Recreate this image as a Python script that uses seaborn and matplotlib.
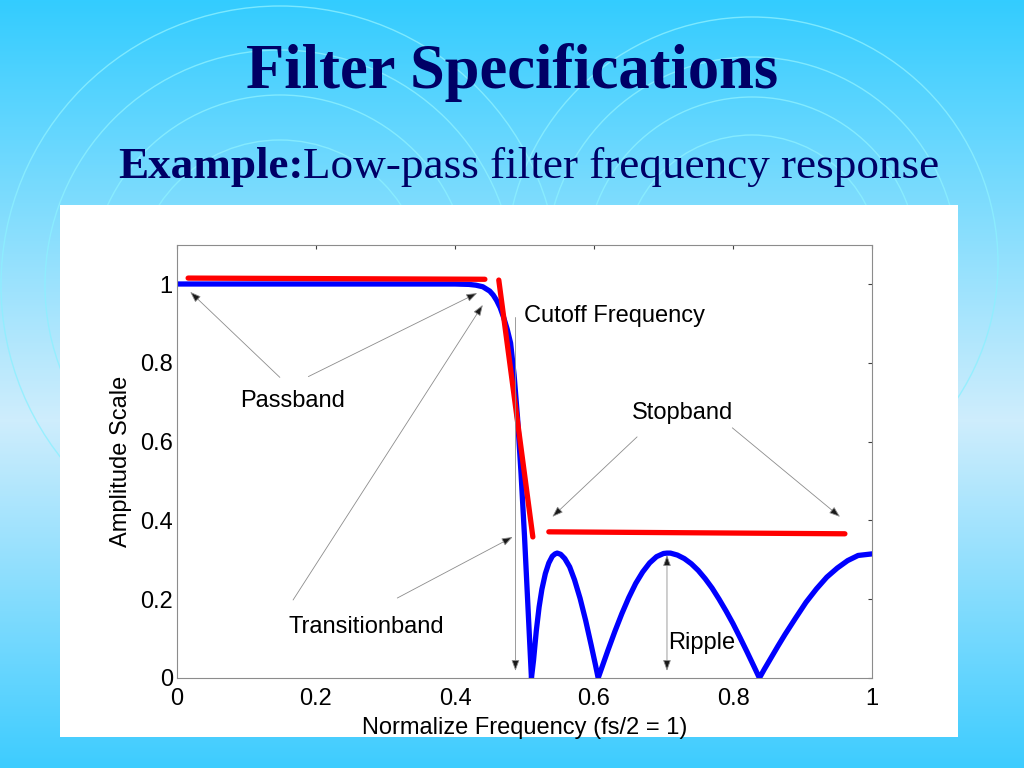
### Filter specifications slide
## low-pass filter magnitude response with passband / stopband annotations

import matplotlib.pyplot as plt
import numpy as np
import pandas as pd
import seaborn as sns
from matplotlib.patches import Circle, Rectangle

## data
freq = [0.00, 0.10, 0.20, 0.30, 0.40, 0.42, 0.43, 0.44, 0.45, 0.455, 0.46, 0.465, 0.47,
        0.475, 0.48, 0.485, 0.49, 0.495, 0.50, 0.505, 0.51,
        0.513, 0.517, 0.521, 0.525, 0.530, 0.535, 0.540, 0.544, 0.547, 0.552, 0.558,
        0.565, 0.572, 0.580, 0.588, 0.596, 0.602, 0.606,
        0.612, 0.620, 0.630, 0.640, 0.650, 0.660, 0.670, 0.680, 0.690, 0.700, 0.705,
        0.710, 0.720, 0.730, 0.740, 0.750, 0.760, 0.770, 0.780, 0.790, 0.800, 0.810,
        0.820, 0.830, 0.838,
        0.845, 0.855, 0.865, 0.875, 0.890, 0.905, 0.920, 0.935, 0.950, 0.965, 0.980, 1.00]
amplitude = [1.000, 1.000, 1.000, 1.000, 1.000, 0.999, 0.997, 0.993, 0.982, 0.972, 0.958, 0.940, 0.915,
             0.886, 0.850, 0.770, 0.660, 0.520, 0.360, 0.180, 0.000,
             0.045, 0.120, 0.180, 0.225, 0.265, 0.292, 0.309, 0.315, 0.317, 0.314, 0.303,
             0.282, 0.249, 0.202, 0.146, 0.083, 0.034, 0.000,
             0.030, 0.070, 0.118, 0.163, 0.204, 0.240, 0.269, 0.292, 0.308, 0.316, 0.317,
             0.317, 0.312, 0.303, 0.290, 0.273, 0.252, 0.228, 0.200, 0.170, 0.138, 0.103,
             0.067, 0.030, 0.000,
             0.022, 0.052, 0.082, 0.111, 0.152, 0.192, 0.226, 0.256, 0.279, 0.298, 0.311, 0.315]

passband_x = [0.016, 0.443]
passband_y = [1.015, 1.012]
transition_x = [0.463, 0.512]
transition_y = [1.010, 0.358]
stopband_x = [0.535, 0.961]
stopband_y = [0.371, 0.366]

x_ticks = [0, 0.2, 0.4, 0.6, 0.8, 1.0]
x_tick_labels = ["0", "0.2", "0.4", "0.6", "0.8", "1"]
y_ticks = [0, 0.2, 0.4, 0.6, 0.8, 1.0]
y_tick_labels = ["0", "0.2", "0.4", "0.6", "0.8", "1"]

NAVY = "#000066"

sns.set_theme(style="white")
plt.rcParams["font.family"] = ["Liberation Sans", "DejaVu Sans"]

fig = plt.figure(figsize=(10.24, 7.68), dpi=100)

#### slide background: vertical gradient + decorative rings ####
bg = fig.add_axes([0, 0, 1, 1], zorder=0)
rows = np.arange(768)
stops = [0, 420, 768]
grad = np.zeros((768, 1, 3))
for i, (c0, c1, c2) in enumerate(zip((0.20, 0.80, 1.0), (0.81, 0.93, 0.99), (0.24, 0.80, 1.0))):
    grad[:, 0, i] = np.interp(rows, stops, [c0, c1, c2])
bg.imshow(grad, aspect="auto", extent=(0, 1024, 768, 0))
for (cx, cy), radii in [((280, 285), [279, 235, 190, 145]), ((752, 263), [246, 206, 166, 128])]:
    for r in radii:
        bg.add_patch(Circle((cx, cy), r, fill=False, ec="#8cf0ff", lw=1.0, alpha=0.8))
bg.add_patch(Rectangle((60, 205), 898, 532, fc="white", ec="none", zorder=5))
bg.set_xlim(0, 1024)
bg.set_ylim(768, 0)
bg.axis("off")

# title and subtitle
fig.text(0.5, 1 - 88 / 768, "Filter Specifications", ha="center", va="baseline",
         fontsize=45, fontweight="bold", family="Liberation Serif", color=NAVY)
t1 = fig.text(118 / 1024, 1 - 178 / 768, "Example:", ha="left", va="baseline",
              fontsize=32.5, fontweight="bold", family="Liberation Serif", color=NAVY)
bg.annotate("Low-pass filter frequency response", xy=(1, 0), xycoords=t1,
            ha="left", va="bottom", fontsize=32.5, family="Liberation Serif", color=NAVY)

#### main plot ####
ax = fig.add_axes([177 / 1024, 1 - 678 / 768, 695 / 1024, 433.4 / 768], zorder=10)
ax.set_facecolor("white")
df = pd.DataFrame({"freq": freq, "amp": amplitude})
sns.lineplot(data=df, x="freq", y="amp", sort=False, estimator=None,
             color="#0000ff", lw=3.8, solid_joinstyle="round", ax=ax)
for xs, ys in [(passband_x, passband_y), (transition_x, transition_y), (stopband_x, stopband_y)]:
    sns.lineplot(x=xs, y=ys, sort=False, estimator=None, color="#ff0000", lw=3.8, ax=ax)

ax.set_xlim(0, 1)
ax.set_ylim(0, 1.1)
ax.set_xticks(x_ticks)
ax.set_xticklabels(x_tick_labels)
ax.set_yticks(y_ticks)
ax.set_yticklabels(y_tick_labels)
ax.tick_params(direction="in", top=True, right=True, length=3, width=0.8,
               color="0.25", labelsize=17, labelcolor="black", pad=3)
ax.tick_params(axis="x", pad=7)
for sp in ax.spines.values():
    sp.set_color("0.55")
    sp.set_linewidth(0.8)
ax.set_xlabel("Normalize Frequency (fs/2 = 1)", fontsize=17, color="black", labelpad=5)
ax.set_ylabel("Amplitude Scale", fontsize=17, color="black", labelpad=6)

## annotations (MATLAB style: thin grey line, black head)
arrow_kw = dict(arrowstyle="-|>,head_length=0.55,head_width=0.2", mutation_scale=12,
                ec="0.55", fc="k", lw=0.6, shrinkA=0, shrinkB=0)
arrows = [
    ((0.148, 0.763), (0.019, 0.980)),   # passband
    ((0.189, 0.765), (0.432, 0.977)),
    ((0.167, 0.198), (0.440, 0.947)),   # transition band
    ((0.317, 0.203), (0.483, 0.358)),
    ((0.487, 0.915), (0.487, 0.018)),   # cutoff
    ((0.662, 0.612), (0.540, 0.409)),   # stopband
    ((0.799, 0.635), (0.954, 0.409)),
]
for tail, head in arrows:
    ax.annotate("", xy=head, xytext=tail, arrowprops=arrow_kw)
ax.annotate("", xy=(0.705, 0.312), xytext=(0.705, 0.018),
            arrowprops=dict(arrow_kw, arrowstyle="<|-|>,head_length=0.55,head_width=0.2"))

ax.text(0.166, 0.704, "Passband", ha="center", va="center", fontsize=17, color="black")
ax.text(0.273, 0.129, "Transitionband", ha="center", va="center", fontsize=17, color="black")
ax.text(0.500, 0.919, "Cutoff Frequency", ha="left", va="center", fontsize=17, color="black")
ax.text(0.728, 0.673, "Stopband", ha="center", va="center", fontsize=17, color="black")
ax.text(0.706, 0.089, "Ripple", ha="left", va="center", fontsize=17, color="black")

plt.savefig("out.png", dpi=100)
plt.close()
